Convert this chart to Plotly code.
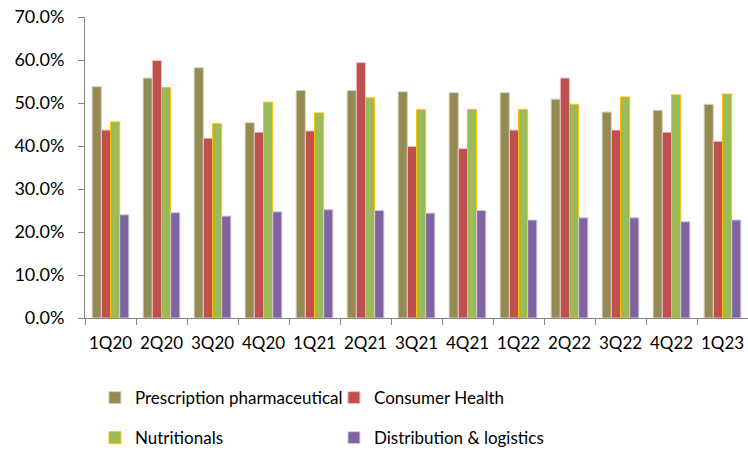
import plotly.graph_objects as go

quarters = ["1Q20", "2Q20", "3Q20", "4Q20", "1Q21", "2Q21", "3Q21", "4Q21",
            "1Q22", "2Q22", "3Q22", "4Q22", "1Q23"]
pharma = [53.8, 55.8, 58.2, 45.4, 52.9, 52.9, 52.6, 52.4, 52.4, 50.9, 47.9, 48.3, 49.7]
consumer = [43.7, 59.9, 41.8, 43.2, 43.5, 59.4, 39.9, 39.4, 43.7, 55.8, 43.7, 43.2, 41.1]
nutritionals = [45.6, 53.6, 45.2, 50.2, 47.7, 51.2, 48.5, 48.5, 48.5, 49.7, 51.4, 51.9, 52.1]
distribution = [24.0, 24.5, 23.7, 24.7, 25.2, 25.0, 24.4, 25.0, 22.8, 23.3, 23.3, 22.4, 22.8]

series = [
    ("Prescription pharmaceutical", pharma, "#948A54", "#D9D3B8", "legend"),
    ("Consumer Health", consumer, "#C0504D", "#EBC4C3", "legend"),
    ("Nutritionals", nutritionals, "#9BBB59", "#FFC000", "legend2"),
    ("Distribution & logistics", distribution, "#8064A2", "#D5CBE3", "legend2"),
]

FONT = "Lato"
fig = go.Figure()
for name, vals, col, edge, lg in series:
    fig.add_trace(go.Bar(
        x=quarters, y=[v / 100 for v in vals], name=name,
        marker=dict(color=col, line=dict(color=edge, width=1)),
        legend=lg,
    ))

axis_col = "#868686"
fig.update_layout(
    width=748, height=450,
    margin=dict(l=85, r=0, t=17, b=132, autoexpand=False),
    paper_bgcolor="white", plot_bgcolor="white",
    barmode="group", bargap=0.28, bargroupgap=0,
    font=dict(family=FONT, size=17, color="#000000"),
    xaxis=dict(
        type="category", showline=True, linecolor=axis_col, linewidth=1,
        ticks="outside", tickson="boundaries", ticklen=6, tickcolor=axis_col,
        showgrid=False, tickfont=dict(size=17), tickangle=0, ticklabelstandoff=10,
    ),
    yaxis=dict(
        range=[0, 0.70], dtick=0.10, tickformat=".1%",
        showline=True, linecolor=axis_col, linewidth=1,
        ticks="outside", ticklen=6, tickcolor=axis_col,
        showgrid=False, zeroline=False, tickfont=dict(size=18),
        ticklabelstandoff=10,
    ),
    legend=dict(
        orientation="h", x=0.015, xanchor="left", y=-0.266, yanchor="middle",
        entrywidth=194, font=dict(size=17), traceorder="normal",
    ),
    legend2=dict(
        orientation="h", x=0.015, xanchor="left", y=-0.399, yanchor="middle",
        entrywidth=194, font=dict(size=17), traceorder="normal",
    ),
)

fig.write_html("out.html")
